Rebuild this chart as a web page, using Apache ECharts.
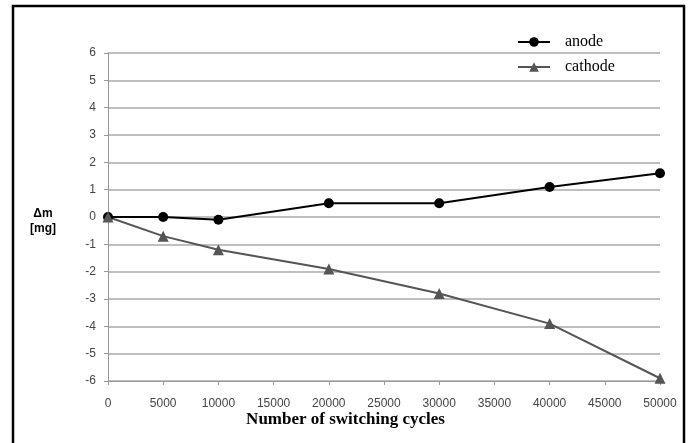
<!DOCTYPE html>
<html>
<head>
<meta charset="utf-8">
<script src="https://cdn.jsdelivr.net/npm/echarts@6/dist/echarts.min.js"></script>
<style>
html,body{margin:0;padding:0;background:#fff;}
#c{width:691px;height:443px;}
</style>
</head>
<body>
<div id="c"></div>
<script>
const cycles = [0, 5000, 10000, 20000, 30000, 40000, 50000];
const anode = [0, 0, -0.1, 0.5, 0.5, 1.1, 1.6];
const cathode = [0, -0.7, -1.2, -1.9, -2.8, -3.9, -5.9];
const xTitle = 'Number of switching cycles';
const yTitle = 'Δm\n[mg]';

const pair = (xs, ys) => xs.map((x, i) => [x, ys[i]]);
const chart = echarts.init(document.getElementById('c'));
chart.setOption({
  animation: false,
  backgroundColor: '#fff',
  grid: {left: 108, right: 31, top: 53, bottom: 62},
  legend: {
    orient: 'vertical', left: 512, top: 29,
    itemWidth: 32, itemHeight: 12, itemGap: 9,
    textStyle: {fontFamily: 'Liberation Serif', fontSize: 16, color: '#000', padding: [0, 0, 0, 10]},
    data: ['anode', 'cathode']
  },
  xAxis: [{
    type: 'value', min: 0, max: 50000, interval: 5000,
    axisLine: {show: false}, axisTick: {show: false}, splitLine: {show: false},
    axisLabel: {margin: 17, fontFamily: 'Liberation Sans', fontSize: 12, color: '#444', formatter: v => String(v)}
  }, {
    type: 'value', min: 0, max: 50000, interval: 5000, position: 'bottom',
    axisLine: {show: true, onZero: true, lineStyle: {color: '#999', width: 1}},
    axisTick: {show: true, length: 4, lineStyle: {color: '#999'}},
    axisLabel: {show: false}, splitLine: {show: false}
  }],
  yAxis: {
    type: 'value', min: -6, max: 6, interval: 1,
    axisLine: {show: true, lineStyle: {color: '#999', width: 1}},
    axisTick: {show: true, length: 4, lineStyle: {color: '#999'}},
    axisLabel: {margin: 12, fontFamily: 'Liberation Sans', fontSize: 12, color: '#444'},
    splitLine: {show: true, lineStyle: {color: '#aaa', width: 1.5}}
  },
  series: [{
    name: 'anode', type: 'line', xAxisIndex: 0, data: pair(cycles, anode),
    symbol: 'circle', symbolSize: 10,
    lineStyle: {color: '#000', width: 2}, itemStyle: {color: '#000'}
  }, {
    name: 'cathode', type: 'line', xAxisIndex: 0, data: pair(cycles, cathode),
    symbol: 'triangle', symbolSize: 11,
    lineStyle: {color: '#555', width: 2}, itemStyle: {color: '#555'}
  }],
  graphic: [{
    type: 'rect', shape: {x: 13, y: 6, width: 671, height: 460},
    style: {fill: 'none', stroke: '#000', lineWidth: 2.5}, silent: true
  }, {
    type: 'text', left: 'center', top: 206,
    style: {text: yTitle, font: 'bold 12px "Liberation Sans"', fill: '#000', textAlign: 'center', lineHeight: 15},
    left: 30
  }, {
    type: 'text', left: 'center', top: 411,
    style: {text: xTitle, font: 'bold 17px "Liberation Serif"', fill: '#000'}
  }]
});
</script>
</body>
</html>
